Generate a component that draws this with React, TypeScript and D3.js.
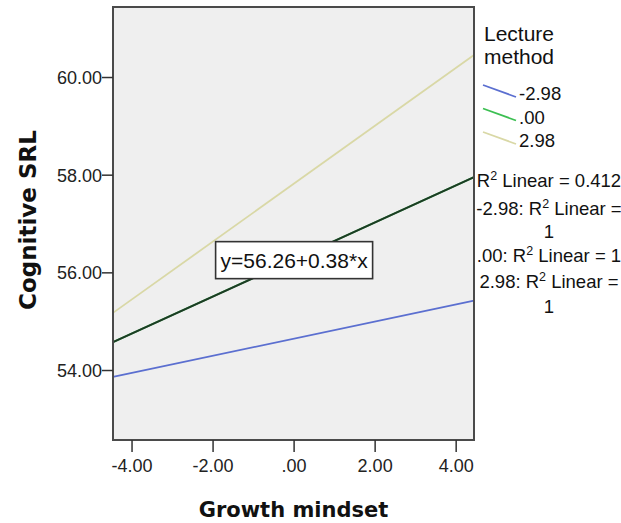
import React from "react";
import * as d3 from "d3";

const xTicks = [-4, -2, 0, 2, 4];
const xTickLabels = ["-4.00", "-2.00", ".00", "2.00", "4.00"];
const yTicks = [54, 56, 58, 60];
const yTickLabels = ["54.00", "56.00", "58.00", "60.00"];

const groups = ["-2.98", ".00", "2.98"];
const groupColors = ["#5b6fd0", "#3cbf52", "#d9d8a6"];
const lineX = [-4.47, 4.44];
const groupStart = [53.87, 54.58, 55.18];
const groupEnd = [55.43, 57.96, 60.46];
const totalFit = [54.58, 57.96];
const fitLabel = "y=56.26+0.38*x";
const fitCenter = [0, 56.26];
const legendTitle = ["Lecture", "method"];

const r2Lines = [
  { pre: "", post: " Linear = 0.412", y: 187 },
  { pre: "-2.98: ", post: " Linear =", y: 215 },
  { pre: "", post: "1", y: 238, plain: true },
  { pre: ".00: ", post: " Linear = 1", y: 262 },
  { pre: "2.98: ", post: " Linear =", y: 288 },
  { pre: "", post: "1", y: 313, plain: true },
];

const W = 621;
const H = 523;
const plot = { left: 113, right: 474, top: 7, bottom: 440 };
const font = "'Liberation Sans', Arial, sans-serif";
const titleFont = "'DejaVu Sans', Verdana, sans-serif";

export default function App() {
  const x = d3.scaleLinear().domain([-4.47, 4.44]).range([plot.left, plot.right]);
  const y = d3.scaleLinear().domain([52.577, 61.444]).range([plot.bottom, plot.top]);
  const line = d3
    .line<[number, number]>()
    .x((d) => x(d[0]))
    .y((d) => y(d[1]));

  const cx = x(fitCenter[0]);
  const cy = y(fitCenter[1]);
  const boxW = 157;
  const boxH = 37;

  return (
    <svg
      width={W}
      height={H}
      style={{ position: "absolute", left: 0, top: 0, background: "#fff" }}
    >
      <rect
        x={plot.left}
        y={plot.top}
        width={plot.right - plot.left}
        height={plot.bottom - plot.top}
        fill="#efefef"
      />
      {groups.map((g, i) => (
        <path
          key={g}
          d={line([
            [lineX[0], groupStart[i]],
            [lineX[1], groupEnd[i]],
          ]) || ""}
          stroke={groupColors[i]}
          strokeWidth={1.8}
          fill="none"
        />
      ))}
      <path
        d={line([
          [lineX[0], totalFit[0]],
          [lineX[1], totalFit[1]],
        ]) || ""}
        stroke="#1c3b24"
        strokeWidth={2}
        fill="none"
      />
      <rect
        x={cx - boxW / 2}
        y={cy - boxH / 2}
        width={boxW}
        height={boxH}
        fill="#fff"
        stroke="#333"
        strokeWidth={1.6}
      />
      <text
        x={cx}
        y={cy + 8}
        textAnchor="middle"
        fontFamily={font}
        fontSize={21}
        fill="#111"
      >
        {fitLabel}
      </text>

      {/* R2 labels */}
      {r2Lines.map((r, i) => (
        <text
          key={i}
          x={549}
          y={r.y}
          textAnchor="middle"
          fontFamily={font}
          fontSize={18.5}
          fill="#111"
        >
          {r.plain ? (
            r.post
          ) : (
            <>
              {r.pre}R
              <tspan dy={-7} fontSize={12.5}>
                2
              </tspan>
              <tspan dy={7}>{r.post}</tspan>
            </>
          )}
        </text>
      ))}

      {/* frame */}
      <rect
        x={plot.left}
        y={plot.top}
        width={plot.right - plot.left}
        height={plot.bottom - plot.top}
        fill="none"
        stroke="#4a4a4a"
        strokeWidth={2}
      />

      {/* x axis ticks */}
      {xTicks.map((t, i) => (
        <g key={t}>
          <line x1={x(t)} x2={x(t)} y1={plot.bottom} y2={plot.bottom + 12} stroke="#333" strokeWidth={1.5} />
          <text
            x={x(t)}
            y={472}
            textAnchor="middle"
            fontFamily={font}
            fontSize={18}
            fill="#222"
          >
            {xTickLabels[i]}
          </text>
        </g>
      ))}
      {/* y axis ticks */}
      {yTicks.map((t, i) => (
        <g key={t}>
          <line x1={plot.left - 11} x2={plot.left} y1={y(t)} y2={y(t)} stroke="#333" strokeWidth={1.5} />
          <text
            x={102}
            y={y(t) + 6.5}
            textAnchor="end"
            fontFamily={font}
            fontSize={18}
            fill="#222"
          >
            {yTickLabels[i]}
          </text>
        </g>
      ))}

      {/* axis titles */}
      <text
        x={(plot.left + plot.right) / 2}
        y={517}
        textAnchor="middle"
        fontFamily={titleFont}
        fontWeight="bold"
        fontSize={21}
        fill="#111"
      >
        Growth mindset
      </text>
      <text
        transform={`translate(36, 220) rotate(-90)`}
        textAnchor="middle"
        fontFamily={titleFont}
        fontWeight="bold"
        fontSize={23}
        fill="#111"
      >
        Cognitive SRL
      </text>

      {/* legend */}
      <text x={484} y={41} fontFamily={font} fontSize={21} fill="#111">
        {legendTitle[0]}
        <tspan x={484} dy={23}>
          {legendTitle[1]}
        </tspan>
      </text>
      {groups.map((g, i) => {
        const by = 100 + i * 23.5;
        return (
          <g key={g}>
            <line x1={483} y1={by - 15} x2={516} y2={by - 3} stroke={groupColors[i]} strokeWidth={1.8} />
            <text x={519} y={by} fontFamily={font} fontSize={18.5} fill="#111">
              {g}
            </text>
          </g>
        );
      })}
    </svg>
  );
}
